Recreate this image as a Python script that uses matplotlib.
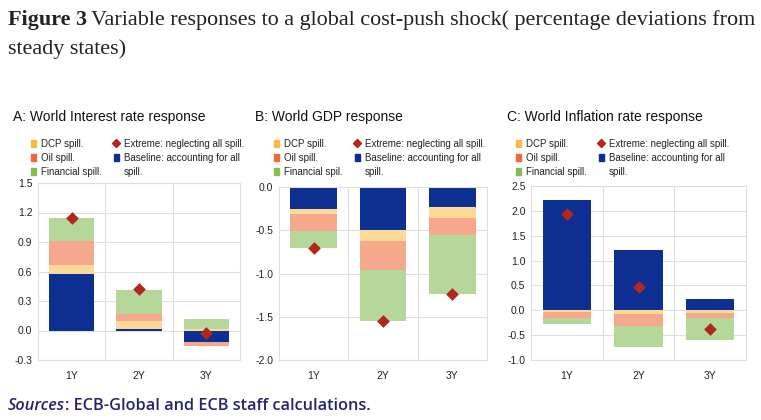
import numpy as np
import matplotlib
matplotlib.use("Agg")
import matplotlib.pyplot as plt
from matplotlib.patches import Patch
from matplotlib.lines import Line2D

# ---------------- data ----------------
categories = ["1Y", "2Y", "3Y"]

interest_baseline = [0.57, 0.02, -0.12]
interest_dcp = [0.10, 0.08, 0.02]
interest_oil = [0.24, 0.065, -0.035]
interest_fin = [0.23, 0.25, 0.10]
interest_extreme = [1.145, 0.42, -0.03]

gdp_baseline = [-0.26, -0.50, -0.23]
gdp_dcp = [-0.05, -0.12, -0.13]
gdp_oil = [-0.20, -0.34, -0.19]
gdp_fin = [-0.20, -0.59, -0.69]
gdp_extreme = [-0.70, -1.55, -1.24]

infl_baseline = [2.21, 1.21, 0.23]
infl_dcp = [-0.03, -0.07, -0.06]
infl_oil = [-0.12, -0.24, -0.10]
infl_fin = [-0.13, -0.42, -0.43]
infl_extreme = [1.94, 0.47, -0.37]

panel_titles = ["A: World Interest rate response", "B: World GDP response",
                "C: World Inflation rate response"]
fin_labels = ["Financial spill.", "Financial spil.", "Financial spill."]
yticks_a = [-0.3, 0.0, 0.3, 0.6, 0.9, 1.2, 1.5]
yticks_b = [-2.0, -1.5, -1.0, -0.5, 0.0]
yticks_c = [-1.0, -0.5, 0.0, 0.5, 1.0, 1.5, 2.0, 2.5]

# ---------------- style ----------------
C_BASE = "#0d2f91"
C_EXT = "#b0271c"
C_DCP_BAR, C_DCP_LEG = "#fbd996", "#f6b94a"
C_OIL_BAR, C_OIL_LEG = "#f5a88c", "#ee6a3e"
C_FIN_BAR, C_FIN_LEG = "#b5d89a", "#80c050"
GRID = "#dedede"
SANS = "Liberation Sans"

W, H = 761, 420
fig = plt.figure(figsize=(W / 100, H / 100), dpi=100)
fig.patch.set_facecolor("white")


def fx(px):
    return px / W


def fy(py):
    return 1 - py / H


# title
renderer = fig.canvas.get_renderer()
t1 = fig.text(fx(8), fy(25), "Figure 3", fontsize=15.9, fontweight="bold",
              family="Liberation Serif", va="baseline", color="#222222")
bb = t1.get_window_extent(renderer)
fig.text(bb.x1 / W + fx(4), fy(25),
         "Variable responses to a global cost-push shock( percentage deviations from",
         fontsize=15.9, family="Liberation Serif", va="baseline", color="#222222")
fig.text(fx(8), fy(54), "steady states)", fontsize=15.9, family="Liberation Serif",
         va="baseline", color="#222222")

# sources
t2 = fig.text(fx(8), fy(410), "Sources", fontsize=11.7, style="italic",
              family="Open Sans", weight="semibold", color="#24246e", va="baseline")
bb2 = t2.get_window_extent(renderer)
fig.text(bb2.x1 / W, fy(410), ": ECB-Global and ECB staff calculations.",
         fontsize=11.7, family="Open Sans", weight="semibold", color="#24246e",
         va="baseline")

panels = [
    dict(box=(38, 183, 240, 360), ylim=(-0.3, 1.5), yticks=yticks_a,
         data=(interest_baseline, interest_dcp, interest_oil, interest_fin),
         extreme=interest_extreme, title_x=13, leg_x=31),
    dict(box=(279, 187, 487, 360), ylim=(-2.0, 0.0), yticks=yticks_b,
         data=(gdp_baseline, gdp_dcp, gdp_oil, gdp_fin),
         extreme=gdp_extreme, title_x=255, leg_x=274),
    dict(box=(531, 186, 746, 360), ylim=(-1.0, 2.5), yticks=yticks_c,
         data=(infl_baseline, infl_dcp, infl_oil, infl_fin),
         extreme=infl_extreme, title_x=507, leg_x=516),
]

x = np.arange(len(categories))
for i, p in enumerate(panels):
    l, t, r, b = p["box"]
    ax = fig.add_axes([fx(l), fy(b), fx(r - l), (b - t) / H])
    ax.set_xlim(-0.5, 2.5)
    ax.set_ylim(*p["ylim"])
    ax.set_yticks(p["yticks"])
    ax.set_yticklabels([f"{v:.1f}" for v in p["yticks"]])
    ax.set_xticks(x)
    ax.set_xticklabels(categories)
    ax.tick_params(length=0, labelsize=7.5, colors="#222222")
    ax.tick_params(axis="y", pad=4)
    ax.tick_params(axis="x", pad=8)
    for lab in ax.get_xticklabels() + ax.get_yticklabels():
        lab.set_family(SANS)
    for s in ax.spines.values():
        s.set_color(GRID)
        s.set_linewidth(0.8)
    ax.set_axisbelow(True)
    ax.grid(axis="y", color=GRID, lw=0.8)
    for xv in (0.5, 1.5):
        ax.axvline(xv, color=GRID, lw=0.8, zorder=0)

    pos = np.zeros(3)
    neg = np.zeros(3)
    for vals, col in zip(p["data"], [C_BASE, C_DCP_BAR, C_OIL_BAR, C_FIN_BAR]):
        v = np.array(vals, dtype=float)
        bottom = np.where(v >= 0, pos, neg)
        ax.bar(x, v, width=0.67, bottom=bottom, color=col, lw=0, zorder=2)
        pos = pos + np.where(v >= 0, v, 0)
        neg = neg + np.where(v < 0, v, 0)
    ax.scatter(x, p["extreme"], marker="D", s=42, color=C_EXT, zorder=3, lw=0)

    fig.text(fx(p["title_x"]), fy(117), panel_titles[i], fontsize=10,
             family=SANS, va="center", color="#111111")

    handles = [
        Patch(color=C_DCP_LEG), Patch(color=C_OIL_LEG), Patch(color=C_FIN_LEG),
        Line2D([], [], marker="D", color=C_EXT, ls="none", markersize=4.5),
        Patch(color=C_BASE), Patch(color="none"),
    ]
    labels = ["DCP spill.", "Oil spill.", fin_labels[i],
              "Extreme: neglecting all spill.", "Baseline: accounting for all",
              "spill."]
    leg = fig.legend(handles, labels, loc="upper left",
                     bbox_to_anchor=(fx(p["leg_x"]), fy(139)),
                     bbox_transform=fig.transFigure, ncol=2, frameon=False,
                     prop={"family": SANS, "size": 7.0},
                     handlelength=0.55, handleheight=0.8, handletextpad=0.5,
                     columnspacing=1.2, labelspacing=0.4, borderpad=0,
                     borderaxespad=0)
    for txt in leg.get_texts():
        txt.set_color("#222222")

fig.savefig("out.png", dpi=100, facecolor="white")
